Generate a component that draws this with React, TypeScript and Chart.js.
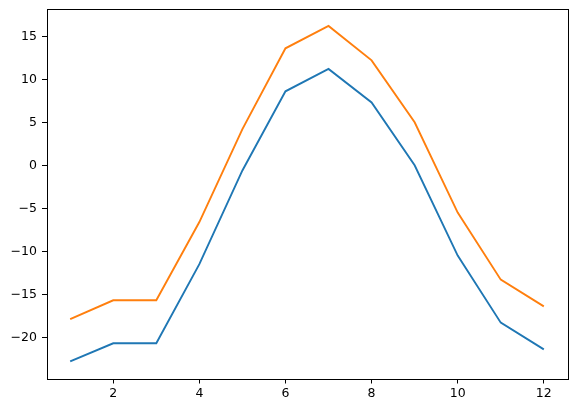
import React, { useEffect, useRef } from "react";
import { Chart, registerables } from "chart.js";

Chart.register(...registerables);

const months = [1, 2, 3, 4, 5, 6, 7, 8, 9, 10, 11, 12];
const seriesA = [-22.8, -20.7, -20.7, -11.5, -0.6, 8.6, 11.2, 7.3, 0.0, -10.5, -18.3, -21.4];
const seriesB = [-17.9, -15.7, -15.7, -6.6, 4.2, 13.6, 16.2, 12.2, 5.0, -5.5, -13.3, -16.4];
const xTicks = [2, 4, 6, 8, 10, 12];
const yTicks = [-20, -15, -10, -5, 0, 5, 10, 15];

const frame = {
  id: "frame",
  afterDraw(chart: any) {
    const { ctx, chartArea } = chart;
    ctx.save();
    ctx.strokeStyle = "#000";
    ctx.lineWidth = 1;
    ctx.strokeRect(
      Math.round(chartArea.left) + 0.5,
      Math.round(chartArea.top) + 0.5,
      Math.round(chartArea.right - chartArea.left),
      Math.round(chartArea.bottom - chartArea.top)
    );
    ctx.restore();
  },
};

export default function App() {
  const ref = useRef<HTMLCanvasElement>(null);
  useEffect(() => {
    const font = { family: "'DejaVu Sans'", size: 12.5 };
    const chart = new Chart(ref.current!, {
      type: "line",
      data: {
        datasets: [
          {
            data: months.map((m, i) => ({ x: m, y: seriesA[i] })),
            borderColor: "#1f77b4",
            borderWidth: 1.9,
            pointRadius: 0,
            tension: 0,
            fill: false,
          },
          {
            data: months.map((m, i) => ({ x: m, y: seriesB[i] })),
            borderColor: "#ff7f0e",
            borderWidth: 1.9,
            pointRadius: 0,
            tension: 0,
            fill: false,
          },
        ],
      },
      plugins: [frame],
      options: {
        animation: false,
        responsive: false,
        layout: { padding: { left: 0, top: 9, right: 8.5, bottom: 0 } },
        plugins: { legend: { display: false }, tooltip: { enabled: false } },
        scales: {
          x: {
            type: "linear",
            min: 0.45,
            max: 12.55,
            afterBuildTicks: (s: any) => {
              s.ticks = xTicks.map((v) => ({ value: v }));
            },
            afterFit: (s: any) => {
              s.height = 32;
              s.paddingLeft = 0;
              s.paddingRight = 0;
            },
            grid: { drawOnChartArea: false, drawTicks: true, tickLength: 4.5, color: "#000" },
            border: { display: false },
            ticks: { color: "#000", font, padding: 3, maxRotation: 0, autoSkip: false },
          },
          y: {
            type: "linear",
            min: -24.85,
            max: 18.17,
            afterBuildTicks: (s: any) => {
              s.ticks = yTicks.map((v) => ({ value: v }));
            },
            afterFit: (s: any) => {
              s.width = 46.5;
              s.paddingTop = 0;
              s.paddingBottom = 0;
            },
            grid: { drawOnChartArea: false, drawTicks: true, tickLength: 4.5, color: "#000" },
            border: { display: false },
            ticks: {
              color: "#000",
              font,
              padding: 5,
              autoSkip: false,
              callback: (v: any) => String(v).replace("-", "\u2212"),
            },
          },
        },
      },
    });
    return () => chart.destroy();
  }, []);
  return (
    <div style={{ position: "fixed", left: 0, top: 0, width: 576, height: 411, background: "#fff" }}>
      <canvas ref={ref} width={576} height={411} style={{ width: 576, height: 411 }} />
    </div>
  );
}
